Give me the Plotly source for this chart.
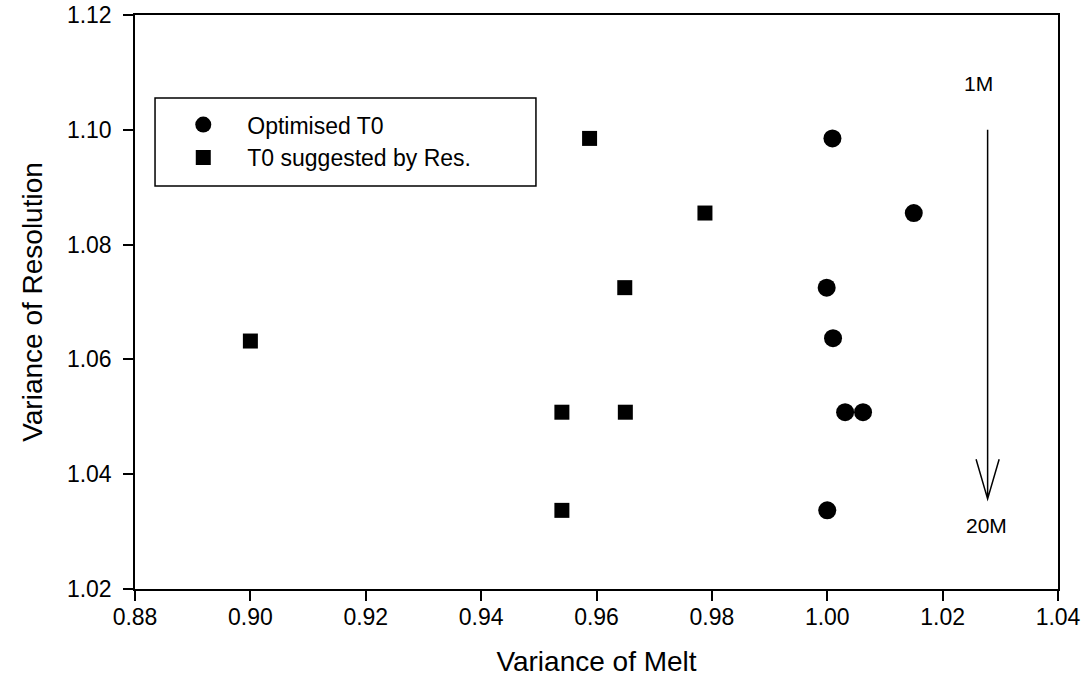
import plotly.graph_objects as go

# Data
opt_x = [1.0009, 1.015, 0.9999, 1.001, 1.0031, 1.0062, 1.000]
opt_y = [1.0985, 1.0855, 1.0725, 1.0637, 1.0508, 1.0508, 1.0337]
res_x = [0.9588, 0.9788, 0.9649, 0.900, 0.954, 0.965, 0.954]
res_y = [1.0985, 1.0855, 1.0725, 1.0632, 1.0508, 1.0508, 1.0337]
series_names = ["Optimised T0", "T0 suggested by Res."]
x_ticks = [0.88, 0.90, 0.92, 0.94, 0.96, 0.98, 1.00, 1.02, 1.04]
y_ticks = [1.02, 1.04, 1.06, 1.08, 1.10, 1.12]

# Arrow annotation (1M -> 20M)
arrow_x = 1.0278
arrow_top = 1.1000
arrow_tip = 1.0357
head_dx = 0.0020
head_dy = 0.0069

FONT = "Liberation Sans, Arial, sans-serif"

fig = go.Figure()
fig.add_trace(go.Scatter(
    x=opt_x, y=opt_y, mode="markers", name=series_names[0],
    marker=dict(symbol="circle", size=18, color="black"),
))
fig.add_trace(go.Scatter(
    x=res_x, y=res_y, mode="markers", name=series_names[1],
    marker=dict(symbol="square", size=15, color="black"),
))

path = (f"M {arrow_x},{arrow_top} L {arrow_x},{arrow_tip} "
        f"M {arrow_x - head_dx},{arrow_tip + head_dy} L {arrow_x},{arrow_tip} "
        f"L {arrow_x + head_dx},{arrow_tip + head_dy}")
fig.add_shape(type="path", path=path, xref="x", yref="y",
              line=dict(color="black", width=1.5))

# legend frame
fig.add_shape(type="rect", xref="paper", yref="paper",
              x0=0.0217, x1=0.4344, y0=0.7021, y1=0.8554,
              line=dict(color="black", width=1.5), fillcolor="rgba(0,0,0,0)")

fig.add_annotation(x=1.0262, y=1.1080, xref="x", yref="y", text="1M",
                   showarrow=False, font=dict(family=FONT, size=21, color="black"))
fig.add_annotation(x=1.0276, y=1.0310, xref="x", yref="y", text="20M",
                   showarrow=False, font=dict(family=FONT, size=21, color="black"))

axis_common = dict(
    showgrid=False, zeroline=False, showline=True, linecolor="black", linewidth=1.5,
    mirror=True, ticks="outside", ticklen=10, tickwidth=1.5, tickcolor="black",
    tickfont=dict(family=FONT, size=23, color="black"),
)

fig.update_xaxes(
    range=[0.88, 1.04], tickvals=x_ticks, ticktext=[f"{v:.2f}" for v in x_ticks],
    title=dict(text="Variance of Melt", font=dict(family=FONT, size=28, color="black"), standoff=22),
    ticklabelstandoff=-3, automargin=False, **axis_common)
fig.update_yaxes(
    range=[1.02, 1.12], tickvals=y_ticks, ticktext=[f"{v:.2f}" for v in y_ticks],
    title=dict(text="Variance of Resolution", font=dict(family=FONT, size=28, color="black"), standoff=16),
    ticklabelstandoff=7, automargin=False, **axis_common)

fig.update_layout(
    width=1088, height=683,
    margin=dict(l=135, r=30, t=15, b=94),
    paper_bgcolor="white", plot_bgcolor="white",
    showlegend=True,
    legend=dict(x=0.0263, y=0.8465, xanchor="left", yanchor="top",
                bgcolor="rgba(0,0,0,0)", borderwidth=0,
                font=dict(family=FONT, size=23, color="black"),
                itemsizing="trace", itemwidth=78),
)

fig.write_html("out.html",
               config={"displayModeBar": False},
               post_script="document.body.style.margin='0';document.body.style.padding='0';")
